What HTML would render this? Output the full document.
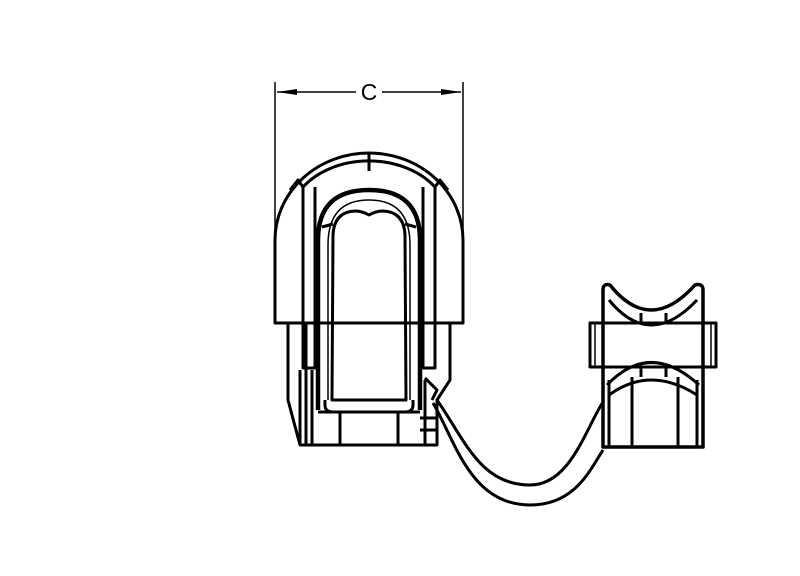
<!DOCTYPE html>
<html><head><style>html,body{margin:0;padding:0;background:#fff}svg{display:block}</style></head>
<body>
<svg width="800" height="576" viewBox="0 0 800 576" xmlns="http://www.w3.org/2000/svg" fill="none" stroke="#000" stroke-width="3" stroke-linejoin="round">
<!-- dimension -->
<line x1="275" y1="82" x2="275" y2="235" stroke-width="1.5"/>
<line x1="463" y1="82" x2="463" y2="235" stroke-width="1.5"/>
<line x1="277" y1="92" x2="356" y2="92" stroke-width="1.5"/>
<line x1="382" y1="92" x2="461" y2="92" stroke-width="1.5"/>
<polygon points="277,92 297,89 297,95" fill="#000" stroke="none"/>
<polygon points="461,92 441,89 441,95" fill="#000" stroke="none"/>
<text x="369" y="100" font-family="Liberation Sans, sans-serif" font-size="23" text-anchor="middle" fill="#000" stroke="none">C</text>

<!-- left body: dome -->
<path d="M275,323 L275,240 A94,87 0 0 1 463,240 L463,323 Z"/>
<path d="M303,187 A80,60 0 0 1 435,187"/>
<line x1="369" y1="153" x2="369" y2="171"/>
<path d="M290,190 L298,180 L303,187 M448,190 L440,180 L435,187"/>
<path d="M303,187 L303,323 M315,187 L315,323"/>
<path d="M435,187 L435,323 M423,187 L423,323"/>
<!-- thick U -->
<path d="M318,410 L318,240 Q318,190 369,190 Q420,190 420,240 L420,410" stroke-width="4.5"/>
<path d="M328,400 L328,245 Q328,200 369,200 Q410,200 410,245 L410,400" stroke-width="1.5"/>
<path d="M322,227 L333,224 M416,227 L405,224"/>
<!-- inner opening -->
<path d="M332,400 L333,235 Q334,212 355,211 Q362,211 369,215 Q376,211 383,211 Q404,212 405,235 L406,400 Z"/>
<path d="M325,400 L325,405 Q325,412 333,412 L405,412 Q413,412 413,405 L413,400"/>
<!-- lower body -->
<path d="M288,323 L288,400 L300,445 L437,445 L437,400 L450,380 L450,323"/>
<line x1="300" y1="445" x2="300" y2="370"/>
<line x1="306" y1="323" x2="306" y2="445"/>
<line x1="312" y1="370" x2="312" y2="445"/>
<path d="M303,323 L303,368 L315,368 L315,323"/>
<path d="M423,323 L423,368 L435,368 L435,323"/>
<line x1="318" y1="412" x2="420" y2="412"/>
<line x1="340" y1="412" x2="340" y2="445"/>
<line x1="398" y1="412" x2="398" y2="445"/>
<line x1="425" y1="380" x2="425" y2="445"/>
<path d="M425,378 L437,390 L432,400"/>
<line x1="420" y1="418" x2="437" y2="418"/>
<line x1="420" y1="430" x2="437" y2="430"/>
<!-- cable -->
<path d="M433,403 C455,440 470,505 530,505 C575,505 590,470 603,450"/>
<path d="M437,400 C465,440 480,485 530,485 C570,485 585,430 603,402"/>
<!-- right connector -->
<path d="M603,447 L603,290 Q603,283 610,285 Q650,335 695,285 Q703,283 703,290 L703,447 Z" stroke-width="3.5"/>
<path d="M609,300 Q650,350 697,300"/>
<rect x="590" y="323" width="126" height="44"/>
<line x1="603" y1="323" x2="603" y2="367"/>
<line x1="703" y1="323" x2="703" y2="367"/>
<line x1="595" y1="323" x2="595" y2="367" stroke-width="1.5"/>
<line x1="711" y1="323" x2="711" y2="367" stroke-width="1.5"/>
<line x1="641" y1="313" x2="641" y2="323"/>
<line x1="666" y1="313" x2="666" y2="323"/>
<path d="M607,385 Q650,340 699,385"/>
<path d="M609,395 Q650,365 697,395"/>
<line x1="641" y1="367" x2="641" y2="377"/>
<line x1="666" y1="367" x2="666" y2="377"/>
<line x1="632" y1="377" x2="632" y2="447"/>
<line x1="678" y1="377" x2="678" y2="447"/>
<line x1="609" y1="380" x2="609" y2="447"/>
<line x1="697" y1="380" x2="697" y2="447"/>
</svg>
</body></html>
